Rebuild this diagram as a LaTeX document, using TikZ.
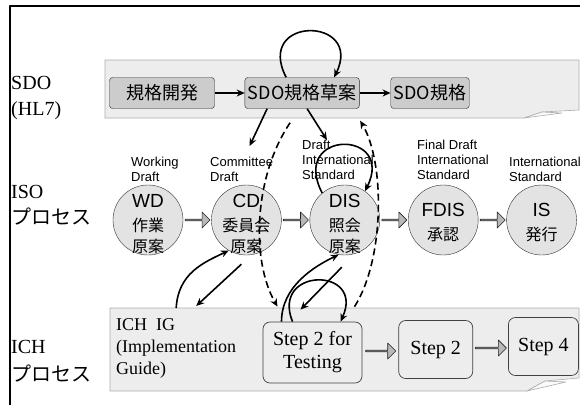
\documentclass[tikz,border=0pt]{standalone}
\usepackage{fontspec}
\setmainfont{Liberation Serif}
\newfontfamily\jpfont{Noto Sans CJK JP}
\newfontfamily\arialfont{Liberation Sans}
\usetikzlibrary{arrows.meta,positioning,calc,shapes.arrows}

\begin{document}
\begin{tikzpicture}[x=1pt, y=-1pt, >={Stealth[length=8pt,width=7pt]}, line join=round]
  % ------- styles -------
  \tikzstyle{band}=[fill=gray!14, draw=gray!65, line width=0.6pt]
  \tikzstyle{sdobox}=[draw=gray!30!black, fill=gray!40, rounded corners=3pt, minimum height=31pt, inner xsep=3pt, font=\jpfont\fontsize{18}{20}\selectfont]
  \tikzstyle{circ}=[circle, draw=gray!40!black, fill=gray!22, minimum size=70pt, inner sep=0pt]
  \tikzstyle{ctext}=[align=center, inner sep=0pt, font=\jpfont\fontsize{16}{21}\selectfont]
  \tikzstyle{lbl}=[align=left, inner sep=0pt, anchor=north west, font=\arialfont\fontsize{13}{15}\selectfont]
  \tikzstyle{rowlbl}=[align=left, inner sep=0pt, anchor=north west, font=\fontsize{20}{26}\selectfont]
  \tikzstyle{stepbox}=[draw=black!75, fill=gray!14, rounded corners=7pt, line width=0.7pt, align=center, font=\fontsize{20}{23}\selectfont]
  \tikzstyle{fat}=[single arrow, draw=gray!25!black, fill=gray!55, minimum width=16pt, single arrow head extend=3pt, inner sep=0pt, line width=0.6pt]
  \tikzstyle{link}=[->, line width=1.6pt]
  \tikzstyle{dlink}=[link, dash pattern=on 7pt off 4pt]
  \newcommand\abbr[1]{{\arialfont\fontsize{19}{22}\selectfont #1}}

  \useasboundingbox (0,0) rectangle (580,405);
  \draw[line width=1.6pt] (10,405) -- (10,6) -- (580,6);

  % ------- bands -------
  \draw[band] (105,60) -- (579,60) -- (579,110) -- (542,112) -- (524,118) -- (105,118) -- cycle;
  \draw[band, fill=gray!4] (524,118) -- (542,112) -- (562,113) -- cycle;
  \draw[band] (110,308) -- (579,308) -- (579,378) -- (545,381) -- (527,391) -- (110,391) -- cycle;
  \draw[band, fill=gray!4] (527,391) -- (545,381) -- (566,382) -- cycle;

  % ------- row labels -------
  \node[rowlbl] (sdolbl) at (11,76) {SDO\\(HL7)};
  \node[rowlbl] (isolbl) at (11,185) {ISO\\{\jpfont プロセス}};
  \node[rowlbl] (ichlbl) at (11,340) {ICH\\[2pt]{\jpfont プロセス}};

  % ------- SDO -------
  \node[sdobox, minimum width=105pt] (dev) at (162,93) {規格開発};
  \node[sdobox, right=30pt of dev] (draft) {SDO規格草案};
  \node[sdobox, right=31pt of draft] (std) {SDO規格};

  % ------- ISO -------
  \node[circ] (wd) at (148,220) {};
  \node[circ, right=28pt of wd] (cd) {};
  \node[circ, right=28pt of cd] (dis) {};
  \node[circ, right=28pt of dis] (fdis) {};
  \node[circ, right=28pt of fdis] (is) {};

  \node[ctext] (wdtxt) at ([yshift=-4pt]wd) {\abbr{WD}\\[3pt]作業\\原案};
  \node[ctext] (cdtxt) at ([yshift=-4pt]cd) {\abbr{CD}\\[3pt]委員会\\原案};
  \node[ctext] (distxt) at ([yshift=-4pt]dis) {\abbr{DIS}\\[3pt]照会\\原案};
  \node[ctext] (fdistxt) at ([yshift=-3pt]fdis) {\abbr{FDIS}\\[3pt]承認};
  \node[ctext] (istxt) at ([yshift=-3pt]is) {\abbr{IS}\\[3pt]発行};

  \node[lbl] (wdlbl) at (131,157) {Working\\Draft};
  \node[lbl] (cdlbl) at (210,157) {Committee\\Draft};
  \node[lbl] (dislbl) at (302,140) {Draft\\International\\Standard};
  \node[lbl] (fdislbl) at (417,140) {Final Draft\\International\\Standard};
  \node[lbl] (islbl) at (509,157) {International\\Standard};

  \node[fat, minimum height=25pt] (a1) at ($(wd.east)!0.5!(cd.west)$) {};
  \node[fat, minimum height=25pt] (a2) at ($(cd.east)!0.5!(dis.west)$) {};
  \node[fat, minimum height=25pt] (a3) at ($(dis.east)!0.5!(fdis.west)$) {};
  \node[fat, minimum height=25pt] (a4) at ($(fdis.east)!0.5!(is.west)$) {};

  % ------- ICH -------
  \node[anchor=north west, inner sep=0pt, align=left, font=\fontsize{18}{22}\selectfont] (ig) at (116,318) {ICH\enspace IG\\(Implementation\\Guide)};
  \node[stepbox, minimum width=99pt, minimum height=61pt] (stepT) at (312.5,352.5) {Step 2 for\\Testing};
  \node[stepbox, minimum width=74pt, minimum height=58pt, right=36pt of stepT, yshift=3pt] (step2) {Step 2};
  \node[stepbox, minimum width=70pt, minimum height=58pt, right=35pt of step2, yshift=3pt] (step4) {Step 4};

  \node[fat, minimum height=30pt] (a5) at ($(stepT.east)!0.5!(step2.west)$) {};
  \node[fat, minimum height=31pt] (a6) at ($(step2.east)!0.5!(step4.west)$) {};

  % ------- arrows -------
  \draw[link] (dev) -- (draft);
  \draw[link] (draft) -- (std);
  \draw[link] ([xshift=-16pt]draft.north) .. controls +(-32,-62) and +(30,-61) .. ([xshift=32pt]draft.north);
  \draw[link] ([xshift=-35pt]draft.south) -- ([xshift=8pt,yshift=11pt]cdlbl.north);
  \draw[link] ([xshift=5pt]draft.south) -- ([xshift=-11pt]dislbl.north);
  \draw[link] (dis.130) .. controls +(-33,-64) and +(31,-62) .. (dis.55);

  % draft <-> step 2 for testing
  \draw[dlink] ([xshift=-12pt,yshift=-14pt]draft.south) .. controls +(-36,53) and +(-27,-47) .. ([xshift=-35pt,yshift=15pt]stepT.north);
  \draw[dlink] ([xshift=42pt,yshift=15pt]stepT.north) .. controls +(30,-47) and +(25,42) .. ([xshift=58pt,yshift=-12pt]draft.south);

  \draw[link] ([yshift=10pt]ig.north) .. controls +(2,-35) and +(-25,12) .. (cd.240);
  \draw[link] ([xshift=-5pt,yshift=-9pt]cd.south) -- ([xshift=20pt,yshift=12pt]ig.north);
  \draw[link] ([xshift=-31pt]stepT.north) .. controls +(0,-35) and +(-25,12) .. (dis.260);
  \draw[link] ([xshift=-3pt,yshift=-12pt]dis.south) -- ([xshift=-12pt,yshift=12pt]stepT.north);
  \draw[link] ([xshift=-20pt]stepT.north) .. controls +(-22,-55) and +(25,-55) .. ([xshift=28pt]stepT.north);

\end{tikzpicture}
\end{document}
